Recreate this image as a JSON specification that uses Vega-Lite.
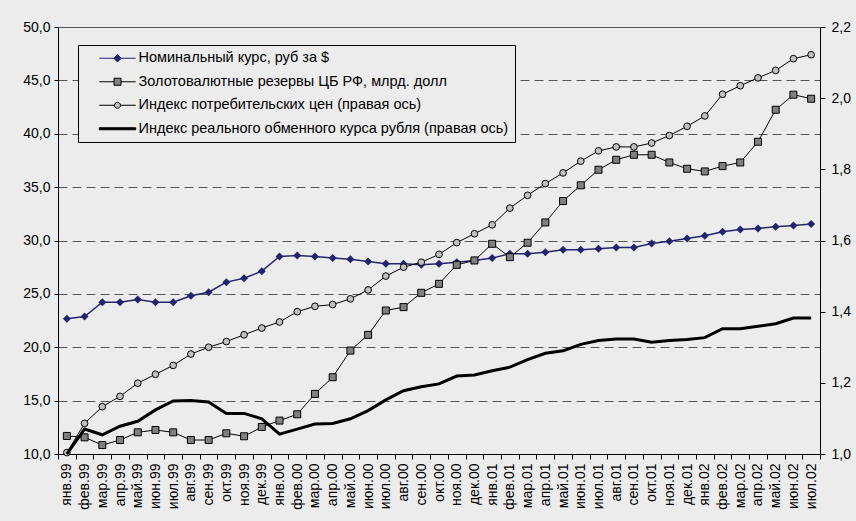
{
  "$schema": "https://vega.github.io/schema/vega-lite/v6.json",
  "width": 762,
  "height": 427,
  "autosize": {"type": "none"},
  "padding": {"left": 58, "top": 27, "right": 36, "bottom": 67},
  "background": "#ececec",
  "config": {
    "view": {"stroke": null},
    "font": "Liberation Sans",
    "axis": {"labelFont": "Liberation Sans", "labelFontSize": 14, "labelColor": "#000", "domainColor": "#000", "tickColor": "#000", "domainWidth": 1, "tickWidth": 1}
  },
  "data": {
    "values": [
      {"m": "янв.99", "nom": 22.66, "res": 11.69, "cpi": 1.004, "reer": 1.0},
      {"m": "фев.99", "nom": 22.88, "res": 11.56, "cpi": 1.086, "reer": 1.070},
      {"m": "мар.99", "nom": 24.22, "res": 10.84, "cpi": 1.133, "reer": 1.054},
      {"m": "апр.99", "nom": 24.22, "res": 11.31, "cpi": 1.162, "reer": 1.078},
      {"m": "май.99", "nom": 24.47, "res": 12.03, "cpi": 1.199, "reer": 1.092},
      {"m": "июн.99", "nom": 24.22, "res": 12.25, "cpi": 1.224, "reer": 1.124},
      {"m": "июл.99", "nom": 24.22, "res": 12.03, "cpi": 1.249, "reer": 1.149},
      {"m": "авг.99", "nom": 24.82, "res": 11.31, "cpi": 1.281, "reer": 1.150},
      {"m": "сен.99", "nom": 25.16, "res": 11.31, "cpi": 1.300, "reer": 1.146},
      {"m": "окт.99", "nom": 26.10, "res": 11.94, "cpi": 1.316, "reer": 1.114},
      {"m": "ноя.99", "nom": 26.47, "res": 11.66, "cpi": 1.335, "reer": 1.114},
      {"m": "дек.99", "nom": 27.13, "res": 12.53, "cpi": 1.354, "reer": 1.099},
      {"m": "янв.00", "nom": 28.50, "res": 13.13, "cpi": 1.371, "reer": 1.056},
      {"m": "фев.00", "nom": 28.60, "res": 13.72, "cpi": 1.400, "reer": 1.070},
      {"m": "мар.00", "nom": 28.50, "res": 15.63, "cpi": 1.415, "reer": 1.084},
      {"m": "апр.00", "nom": 28.35, "res": 17.19, "cpi": 1.420, "reer": 1.086},
      {"m": "май.00", "nom": 28.25, "res": 19.69, "cpi": 1.436, "reer": 1.099},
      {"m": "июн.00", "nom": 28.04, "res": 21.16, "cpi": 1.461, "reer": 1.122},
      {"m": "июл.00", "nom": 27.82, "res": 23.44, "cpi": 1.500, "reer": 1.152},
      {"m": "авг.00", "nom": 27.82, "res": 23.76, "cpi": 1.525, "reer": 1.178},
      {"m": "сен.00", "nom": 27.72, "res": 25.10, "cpi": 1.539, "reer": 1.189},
      {"m": "окт.00", "nom": 27.82, "res": 25.94, "cpi": 1.561, "reer": 1.197},
      {"m": "ноя.00", "nom": 27.97, "res": 27.72, "cpi": 1.594, "reer": 1.219},
      {"m": "дек.00", "nom": 28.13, "res": 28.13, "cpi": 1.619, "reer": 1.222},
      {"m": "янв.01", "nom": 28.35, "res": 29.69, "cpi": 1.644, "reer": 1.234},
      {"m": "фев.01", "nom": 28.76, "res": 28.44, "cpi": 1.691, "reer": 1.244},
      {"m": "мар.01", "nom": 28.76, "res": 29.79, "cpi": 1.727, "reer": 1.265},
      {"m": "апр.01", "nom": 28.91, "res": 31.69, "cpi": 1.760, "reer": 1.283},
      {"m": "май.01", "nom": 29.13, "res": 33.70, "cpi": 1.790, "reer": 1.290},
      {"m": "июн.01", "nom": 29.13, "res": 35.17, "cpi": 1.823, "reer": 1.308},
      {"m": "июл.01", "nom": 29.22, "res": 36.63, "cpi": 1.852, "reer": 1.319},
      {"m": "авг.01", "nom": 29.35, "res": 37.56, "cpi": 1.863, "reer": 1.323},
      {"m": "сен.01", "nom": 29.35, "res": 38.03, "cpi": 1.863, "reer": 1.323},
      {"m": "окт.01", "nom": 29.72, "res": 38.03, "cpi": 1.874, "reer": 1.314},
      {"m": "ноя.01", "nom": 29.94, "res": 37.31, "cpi": 1.895, "reer": 1.319},
      {"m": "дек.01", "nom": 30.19, "res": 36.72, "cpi": 1.921, "reer": 1.322},
      {"m": "янв.02", "nom": 30.44, "res": 36.47, "cpi": 1.950, "reer": 1.327},
      {"m": "фев.02", "nom": 30.82, "res": 36.97, "cpi": 2.011, "reer": 1.352},
      {"m": "мар.02", "nom": 31.04, "res": 37.31, "cpi": 2.035, "reer": 1.352},
      {"m": "апр.02", "nom": 31.13, "res": 39.25, "cpi": 2.057, "reer": 1.359},
      {"m": "май.02", "nom": 31.29, "res": 42.25, "cpi": 2.078, "reer": 1.366},
      {"m": "июн.02", "nom": 31.41, "res": 43.66, "cpi": 2.111, "reer": 1.382},
      {"m": "июл.02", "nom": 31.54, "res": 43.28, "cpi": 2.122, "reer": 1.382}
    ]
  },
  "transform": [{"fold": ["nom", "res", "cpi", "reer"], "as": ["key", "value"]}],
  "encoding": {
    "x": {
      "field": "m",
      "type": "ordinal",
      "bandPosition": 0.5,
      "scale": {
        "type": "band",
        "paddingInner": 0,
        "paddingOuter": 0,
        "domain": ["янв.99","фев.99","мар.99","апр.99","май.99","июн.99","июл.99","авг.99","сен.99","окт.99","ноя.99","дек.99","янв.00","фев.00","мар.00","апр.00","май.00","июн.00","июл.00","авг.00","сен.00","окт.00","ноя.00","дек.00","янв.01","фев.01","мар.01","апр.01","май.01","июн.01","июл.01","авг.01","сен.01","окт.01","ноя.01","дек.01","янв.02","фев.02","мар.02","апр.02","май.02","июн.02","июл.02"]
      },
      "axis": {"title": null, "labelAngle": -90, "tickBand": "extent", "tickSize": 5, "labelPadding": 4, "grid": false}
    }
  },
  "layer": [
    {
      "encoding": {
        "y": {
          "field": "value",
          "type": "quantitative",
          "scale": {"domain": [10, 50], "nice": false, "zero": false},
          "axis": {
            "title": null,
            "orient": "left",
            "values": [10, 15, 20, 25, 30, 35, 40, 45, 50],
            "labelExpr": "replace(format(datum.value, '.1f'), '.', ',')",
            "tickSize": 4,
            "labelPadding": 4,
            "grid": true,
            "gridColor": "#555555",
            "gridWidth": 1,
            "gridDash": {"condition": {"test": "datum.value === 50", "value": []}, "value": [9, 5]}
          }
        }
      },
      "layer": [
        {"transform": [{"filter": "datum.key === 'nom'"}], "mark": {"type": "line", "color": "#24246e", "strokeWidth": 1.5}},
        {"transform": [{"filter": "datum.key === 'res'"}], "mark": {"type": "line", "color": "#000000", "strokeWidth": 1}},
        {"transform": [{"filter": "datum.key === 'nom'"}], "mark": {"type": "point", "shape": "diamond", "filled": true, "color": "#24246e", "size": 64, "opacity": 1}},
        {"transform": [{"filter": "datum.key === 'res'"}], "mark": {"type": "point", "shape": "square", "fill": "#808080", "stroke": "#000000", "strokeWidth": 1, "size": 49, "opacity": 1}},
        {
          "transform": [{"filter": "false"}],
          "mark": {"type": "point", "size": 100, "opacity": 1, "strokeWidth": 1},
          "encoding": {
            "shape": {
              "field": "series", "type": "nominal",
              "scale": {
                "domain": ["Номинальный курс, руб за $", "Золотовалютные резервы ЦБ РФ, млрд. долл", "Индекс потребительских цен (правая ось)", "Индекс реального обменного курса рубля (правая ось)"],
                "range": [
                  "M1.6,0H8.9M4.5,0L5.25,-0.75L6,0L5.25,0.75Z",
                  "M1.6,0H4.55M5.95,0H8.9M4.55,-0.7H5.95V0.7H4.55Z",
                  "M1.6,0H4.65M5.85,0H8.9M5.85,0A0.6,0.6 0 1,1 4.65,0A0.6,0.6 0 1,1 5.85,0Z",
                  "M1.6,-0.2H8.9V0.2H1.6Z"
                ]
              },
              "legend": {"title": null, "orient": "none", "legendX": 20, "legendY": 18, "padding": 6, "rowPadding": 8.5, "labelOffset": 40, "labelFontSize": 14.5, "labelFont": "Liberation Sans", "labelColor": "#000", "strokeColor": "#000", "fillColor": "#ececec", "symbolStrokeWidth": 1, "labelLimit": 600}
            },
            "fill": {
              "field": "series", "type": "nominal",
              "scale": {
                "domain": ["Номинальный курс, руб за $", "Золотовалютные резервы ЦБ РФ, млрд. долл", "Индекс потребительских цен (правая ось)", "Индекс реального обменного курса рубля (правая ось)"],
                "range": ["#24246e", "#808080", "#c0c0c0", "#000000"]
              },
              "legend": {"title": null, "orient": "none", "legendX": 20, "legendY": 18, "padding": 6, "rowPadding": 8.5, "labelOffset": 40, "labelFontSize": 14.5, "labelFont": "Liberation Sans", "labelColor": "#000", "strokeColor": "#000", "fillColor": "#ececec", "symbolStrokeWidth": 1, "labelLimit": 600}
            },
            "stroke": {
              "field": "series", "type": "nominal",
              "scale": {
                "domain": ["Номинальный курс, руб за $", "Золотовалютные резервы ЦБ РФ, млрд. долл", "Индекс потребительских цен (правая ось)", "Индекс реального обменного курса рубля (правая ось)"],
                "range": ["#24246e", "#000000", "#000000", "#000000"]
              },
              "legend": {"title": null, "orient": "none", "legendX": 20, "legendY": 18, "padding": 6, "rowPadding": 8.5, "labelOffset": 40, "labelFontSize": 14.5, "labelFont": "Liberation Sans", "labelColor": "#000", "strokeColor": "#000", "fillColor": "#ececec", "symbolStrokeWidth": 1, "labelLimit": 600}
            }
          }
        }
      ]
    },
    {
      "encoding": {
        "y": {
          "field": "value",
          "type": "quantitative",
          "scale": {"domain": [1.0, 2.2], "nice": false, "zero": false},
          "axis": {
            "title": null,
            "orient": "right",
            "values": [1.0, 1.2, 1.4, 1.6, 1.8, 2.0, 2.2],
            "labelExpr": "replace(format(datum.value, '.1f'), '.', ',')",
            "tickSize": 5,
            "labelPadding": 6,
            "grid": false
          }
        }
      },
      "layer": [
        {"transform": [{"filter": "datum.key === 'cpi'"}], "mark": {"type": "line", "color": "#000000", "strokeWidth": 1}},
        {"transform": [{"filter": "datum.key === 'cpi'"}], "mark": {"type": "point", "shape": "circle", "fill": "#c0c0c0", "stroke": "#000000", "strokeWidth": 1, "size": 45, "opacity": 1}},
        {"transform": [{"filter": "datum.key === 'reer'"}], "mark": {"type": "line", "color": "#000000", "strokeWidth": 3}}
      ]
    }
  ],
  "resolve": {"scale": {"y": "independent"}}
}
